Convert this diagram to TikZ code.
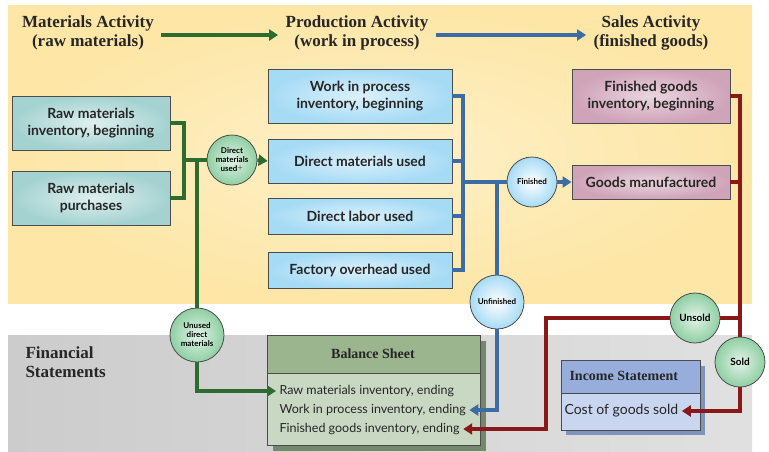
\documentclass[tikz,border=0pt]{standalone}
\usepackage{fontspec}
\setmainfont{Liberation Serif}
\setsansfont{Lato}
\usetikzlibrary{arrows.meta,calc}
\definecolor{gl}{HTML}{2E6B2E}
\definecolor{bl}{HTML}{3C6CA3}
\definecolor{rl}{HTML}{8A1818}
\definecolor{yel}{HTML}{FDE6A6}
\definecolor{yel2}{HTML}{FEF0C8}
\definecolor{tealc}{HTML}{A3D2D0}
\definecolor{bluec}{HTML}{A6DBF5}
\definecolor{pinkc}{HTML}{CFA3B8}
\definecolor{bsh}{HTML}{9BB58F}
\definecolor{bsb}{HTML}{C8D8C3}
\definecolor{ish}{HTML}{97AEDC}
\definecolor{isb}{HTML}{C9D6F0}
\definecolor{circg}{HTML}{8FCFA3}
\begin{document}
\begin{tikzpicture}[x=1pt,y=-1pt,
 box/.style={draw=black!70,line width=0.8pt,minimum width=158pt,align=center,font=\sffamily\bfseries\fontsize{14}{17}\selectfont,text=black!85},
 teal/.style={box,inner color=tealc!35,outer color=tealc},
 bbox/.style={box,minimum width=184pt,inner color=bluec!40,outer color=bluec},
 pbox/.style={box,inner color=pinkc!45,outer color=pinkc},
 circ/.style={circle,draw=black!70,line width=0.8pt,align=center,font=\sffamily\bfseries\fontsize{8}{9}\selectfont,inner sep=0pt},
 gc/.style={circ,inner color=circg!25,outer color=circg},
 bc/.style={circ,inner color=white,outer color=bluec},
 gline/.style={draw=gl,line width=3.5pt},
 bline/.style={draw=bl,line width=3.5pt},
 rline/.style={draw=rl,line width=3.5pt},
 tip/.style={-{Triangle[length=9pt,width=11pt]}},
 head/.style={font=\bfseries\fontsize{17}{19}\selectfont,align=center,text=black!85},
 item/.style={font=\sffamily\fontsize{12.5}{14}\selectfont,anchor=west,text=black!85}]
\useasboundingbox (0,0) rectangle (769,451);
\fill[white] (0,0) rectangle (769,451);
\shade[inner color=yel2,outer color=yel] (8,5) rectangle (752,303);
\shade[left color=black!20,right color=black!12] (8,335) rectangle (752,451);
% headers
\node[head] (h1) at (88,33) {Materials Activity\\(raw materials)};
\node[head] (h2) at (357,33) {Production Activity\\(work in process)};
\node[head] (h3) at (651,33) {Sales Activity\\(finished goods)};
\node[head,anchor=west,align=left] (fs) at (22,362) {Financial\\Statements};
\draw[gline,tip] (h1.east)++(4,2) -- ($(h2.west)+(-4,2)$);
\draw[bline,tip] (h2.east)++(4,2) -- ($(h3.west)+(-4,2)$);
% boxes
\node[teal,minimum height=54pt] (rmb) at (91,123) {Raw materials\\inventory, beginning};
\node[teal,minimum height=54pt] (rmp) at (91,198) {Raw materials\\purchases};
\node[bbox,minimum height=54pt] (wip) at (360,96) {Work in process\\inventory, beginning};
\node[bbox,minimum height=44pt] (dmu) at (360,161) {Direct materials used};
\node[bbox,minimum height=36pt] (dlu) at (360,216) {Direct labor used};
\node[bbox,minimum height=36pt] (fou) at (360,270) {Factory overhead used};
\node[pbox,minimum height=54pt] (fgb) at (651,96) {Finished goods\\inventory, beginning};
\node[pbox,minimum height=34pt] (gm) at (651,182) {Goods manufactured};
% circles
\node[gc,minimum size=50pt] (dmc) at (232,160) {Direct\\materials\\used$^{+}$};
\node[gc,minimum size=54pt] (un) at (197,335) {Unused\\direct\\materials};
\node[bc,minimum size=50pt] (fin) at (532,182) {Finished};
\node[bc,minimum size=54pt] (unf) at (497,302) {Unfinished};
\node[gc,minimum size=50pt,font=\sffamily\bfseries\fontsize{10}{11}\selectfont] (uns) at (695,318) {Unsold};
\node[gc,minimum size=50pt,font=\sffamily\bfseries\fontsize{10}{11}\selectfont] (sold) at (740,362) {Sold};
% statements
\fill[bsh!75!black] (273,341) rectangle (486,451);
\draw[black!70,line width=0.8pt,fill=bsh] (267,335) rectangle (480,373);
\draw[black!70,line width=0.8pt,fill=bsb] (267,373) rectangle (480,445);
\node[font=\bfseries\fontsize{14}{16}\selectfont,text=black!85] (bs) at (373,354) {Balance Sheet};
\node[item] (e1) at (276,391) {Raw materials inventory, ending};
\node[item] (e2) at (276,410) {Work in process inventory, ending};
\node[item] (e3) at (276,429) {Finished goods inventory, ending};
\fill[ish!85!black] (566,366) rectangle (705,435);
\draw[black!70,line width=0.8pt,fill=ish] (561,360) rectangle (700,393);
\draw[black!70,line width=0.8pt,fill=isb] (561,393) rectangle (700,430);
\node[font=\bfseries\fontsize{14}{16}\selectfont,anchor=west,text=black!85] (is) at (566,376) {Income Statement};
\node[item,font=\sffamily\fontsize{14}{16}\selectfont] (cgs) at (561,411) {Cost of goods sold};
% green lines
\draw[gline] (rmb.east) -- (184,123) -- (184,198) -- (rmp.east);
\draw[gline] (184,160) -- (dmc.west);
\draw[gline,tip] (dmc.east) -- (dmu.west);
\draw[gline] (197,160) -- (un.north);
\draw[gline,tip] (un.south) -- (197,391) -- (e1.west);
% blue lines
\draw[bline] (wip.east) -- (463,96) -- (463,270) -- (fou.east);
\draw[bline] (dmu.east) -- (463,161);
\draw[bline] (dlu.east) -- (463,216);
\draw[bline] (463,182) -- (fin.west);
\draw[bline,tip] (fin.east) -- (gm.west);
\draw[bline] (497,182) -- (unf.north);
\draw[bline,tip] (unf.south) -- (497,410) -- (e2.east);
% red lines
\draw[rline] (fgb.east) -- (740,96) -- (sold.north);
\draw[rline] (gm.east) -- (740,182);
\draw[rline] (740,318) -- (uns.east);
\draw[rline,tip] (uns.west) -- (546,318) -- (546,429) -- (e3.east);
\draw[rline,tip] (sold.south) -- (740,411) -- (cgs.east);
\end{tikzpicture}
\end{document}
